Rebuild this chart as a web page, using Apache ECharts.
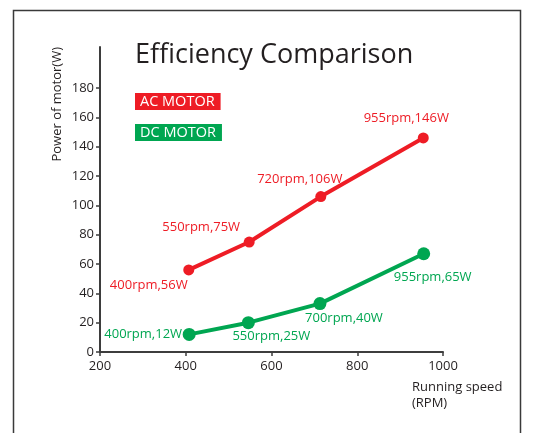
<!DOCTYPE html>
<html><head><meta charset="utf-8">
<script src="https://cdn.jsdelivr.net/npm/echarts@6/dist/echarts.min.js"></script>
<style>html,body{margin:0;padding:0;background:#fff}#c{width:542px;height:433px}</style>
</head><body><div id="c"></div>
<script>
// Data
const acSpeed = [407, 548, 715, 954];
const acPower = [56, 75, 106, 146];
const acLabels = ['400rpm,56W', '550rpm,75W', '720rpm,106W', '955rpm,146W'];
const dcSpeed = [408, 546, 713, 955];
const dcPower = [12, 20, 33, 67];
const dcLabels = ['400rpm,12W', '550rpm,25W', '700rpm,40W', '955rpm,65W'];
const yTicks = [0, 20, 40, 60, 80, 100, 120, 140, 160, 180];
const xTicks = [200, 400, 600, 800, 1000];

const RED = '#ee1c25', GREEN = '#00a651', INK = '#231f20';
const FONT = '"Open Sans", "Noto Sans", sans-serif';
const acOff = [[-40, 15], [-48, -15], [-21, -17], [-17, -20]];
const dcOff = [[-46, 0], [23, 14], [24, 15], [9, 24]];

function build(speed, power, labels, offs) {
  return speed.map((s, i) => ({
    value: [s, power[i]],
    label: { formatter: labels[i], offset: offs[i] }
  }));
}

const chart = echarts.init(document.getElementById('c'), null, {renderer: 'canvas'});
chart.setOption({
  animation: false,
  textStyle: { fontFamily: FONT },
  title: {
    text: 'Efficiency Comparison', left: 130, top: 37,
    textStyle: { fontFamily: FONT, fontSize: 27, fontWeight: 'normal', color: INK }
  },
  legend: {
    orient: 'vertical', left: 125, top: 88, itemGap: 14, icon: 'none', itemWidth: 0, itemHeight: 0,
    selectedMode: false,
    data: [
      { name: 'AC MOTOR', textStyle: { backgroundColor: RED } },
      { name: 'DC MOTOR', textStyle: { backgroundColor: GREEN } }
    ],
    textStyle: { color: '#fff', fontFamily: FONT, fontSize: 14.5, padding: [1, 6, 0, 5], height: 16, lineHeight: 16 }
  },
  graphic: [{
    type: 'rect', shape: { x: 13.5, y: 10.5, width: 507, height: 440 },
    style: { fill: 'none', stroke: '#3a3a3a', lineWidth: 1.5 }, silent: true
  }],
  grid: { left: 100, right: 99, top: 47, bottom: 81, outerBoundsMode: 'none', containLabel: false },
  xAxis: {
    type: 'value', min: 200, max: 1000, interval: 200,
    name: 'Running speed\n(RPM)', nameLocation: 'end', nameGap: -31, nameMoveOverlap: false,
    nameTextStyle: { color: INK, fontSize: 13, align: 'left', verticalAlign: 'top', lineHeight: 16, padding: [27, 0, 0, 0] },
    axisLine: { lineStyle: { color: '#3d3d3d', width: 2 } },
    axisTick: { show: true, length: 4, lineStyle: { color: '#3d3d3d', width: 1.5 } },
    axisLabel: { color: INK, fontSize: 13, margin: 8, customValues: xTicks, formatter: v => String(v) },
    splitLine: { show: false }
  },
  yAxis: {
    type: 'value', min: 0, max: 208, interval: 20,
    name: 'Power of motor(W)', nameLocation: 'end', nameRotate: 90, nameGap: 0, nameMoveOverlap: false,
    nameTextStyle: { color: INK, fontSize: 13, align: 'right', verticalAlign: 'bottom', padding: [0, 0, 36, 0] },
    axisLine: { show: true, lineStyle: { color: '#3d3d3d', width: 2 } },
    axisTick: { show: true, length: 4, customValues: yTicks, lineStyle: { color: '#3d3d3d', width: 1.5 } },
    axisLabel: { color: INK, fontSize: 13, margin: 6, customValues: yTicks, formatter: v => String(v) },
    splitLine: { show: false }
  },
  series: [
    {
      name: 'AC MOTOR', type: 'line', data: build(acSpeed, acPower, acLabels, acOff),
      symbol: 'circle', symbolSize: 11, color: RED,
      lineStyle: { width: 4, color: RED }, itemStyle: { color: RED },
      label: { show: true, position: 'inside', color: RED, fontSize: 13, fontFamily: FONT }
    },
    {
      name: 'DC MOTOR', type: 'line', data: build(dcSpeed, dcPower, dcLabels, dcOff),
      symbol: 'circle', symbolSize: 13, color: GREEN,
      lineStyle: { width: 4, color: GREEN }, itemStyle: { color: GREEN },
      label: { show: true, position: 'inside', color: GREEN, fontSize: 13, fontFamily: FONT }
    }
  ]
});
</script></body></html>
